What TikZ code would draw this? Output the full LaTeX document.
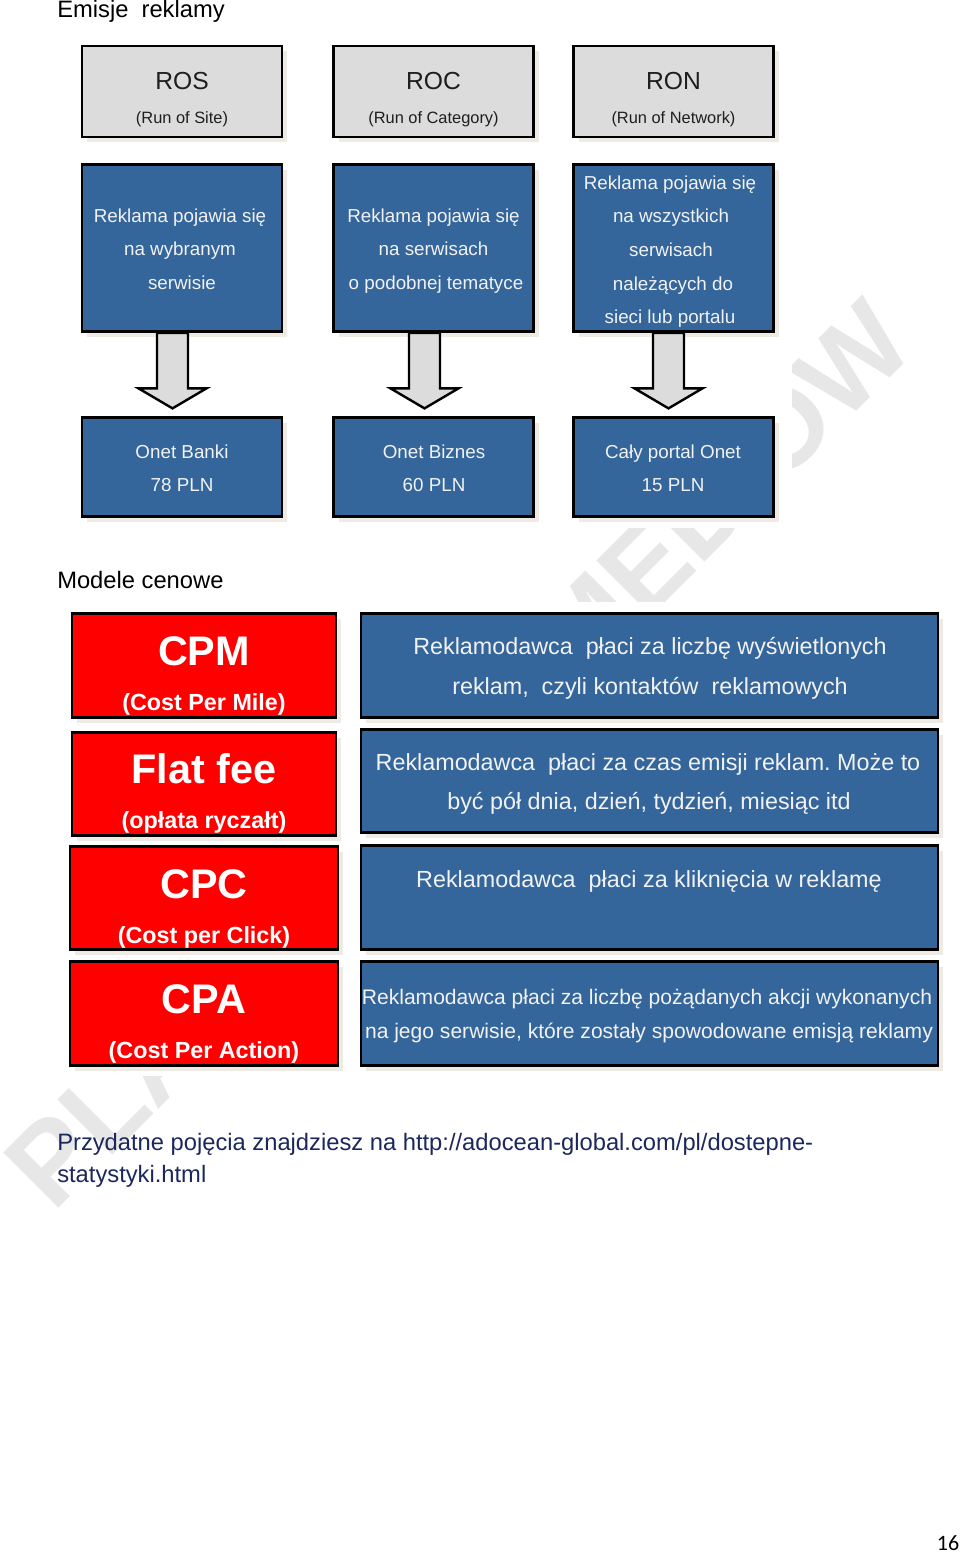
\documentclass[tikz,border=0pt]{standalone}
\usepackage{fontspec}
\setmainfont{Liberation Sans}
\newfontfamily\calibfont{Carlito}
\usetikzlibrary{calc,shadows}
\definecolor{boxblue}{RGB}{52,101,155}
\definecolor{boxgray}{RGB}{220,220,220}
\definecolor{shadowc}{RGB}{237,235,228}
\definecolor{wmgray}{RGB}{231,231,231}
\definecolor{navy}{RGB}{28,40,92}
\definecolor{wtext}{RGB}{242,242,242}
\definecolor{dtext}{RGB}{30,30,30}
\newcommand\blockarr[3]{%
  \coordinate (#1s) at ($(#1.south)+(#3,0)$);
  \coordinate (#1t) at ($(#2.north)+(#3,-7.5)$);
  \draw[barrow] ($(#1s)+(-15.5,0)$) -- ($(#1s)+(15.5,0)$) -- ($(#1t)+(15.5,-20)$) -- ($(#1t)+(34,-20)$) -- (#1t) -- ($(#1t)+(-34,-20)$) -- ($(#1t)+(-15.5,-20)$) -- cycle;}
\begin{document}
\begin{tikzpicture}[x=0.75pt,y=-0.75pt,
  box/.style={draw=black, line width=2.1pt, inner sep=0pt,
    drop shadow={shadow xshift=4pt, shadow yshift=-4pt, fill=shadowc, opacity=1}},
  gbox/.style={box, fill=boxgray, minimum width=150pt, minimum height=68.25pt},
  mbox/.style={box, fill=boxblue, minimum width=150pt, minimum height=125.25pt},
  bbox/.style={box, fill=boxblue, minimum width=150pt, minimum height=74.6pt},
  rbox/.style={box, fill=red, minimum width=#1, minimum height=77.6pt},
  pbox/.style={box, fill=boxblue, minimum width=432.75pt, minimum height=77.6pt},
  barrow/.style={draw=black, fill=boxgray, line width=1.8pt, line join=miter},
  txt/.style={anchor=base, inner sep=0pt},
  gtitle/.style={txt, text=dtext, font=\fontsize{18.5}{20}\selectfont},
  gsub/.style={txt, text=dtext, font=\fontsize{12.3}{14}\selectfont},
  mtxt/.style={txt, text=wtext, font=\fontsize{14.1}{16}\selectfont},
  rbig/.style={txt, text=white, font=\bfseries\fontsize{31}{33}\selectfont},
  rsub/.style={txt, text=white, font=\bfseries\fontsize{17.5}{19}\selectfont},
  ptxt/.style={txt, text=wtext, font=\fontsize{17.5}{19}\selectfont},
  psmall/.style={txt, text=wtext, font=\fontsize{15.8}{18}\selectfont},
  head/.style={anchor=base west, inner sep=0pt, font=\fontsize{17.8}{20}\selectfont},
  wm/.style={inner sep=0pt, text=wmgray, rotate=45, text height=61pt, text depth=0pt,
    font=\bfseries\fontsize{85}{85}\selectfont},
  page/.style={fill=white, draw=none}]
\useasboundingbox (0,0) rectangle (960,1554);
\fill[white] (0,0) rectangle (960,1554);

% watermark (only the visible parts), hidden behind the two diagram areas
\node[wm] (wm1) at (105,1105) {PLA};
\node[wm] (wm2) at (720,490) {MEDIÓW};
\fill[page] (40,30) rectangle (792,528);
\fill[page] (45,602) rectangle (948,1076);

% headings
\node[head] (h1) at (57,17.5) {Emisje\ \ reklamy};
\node[head] (h2) at (57,588) {Modele cenowe};

% top gray boxes
\node[gbox] (ros) at (182,91.5) {};
\node[gbox] (roc) at (433.5,91.5) {};
\node[gbox] (ron) at (673.5,91.5) {};
\node[gtitle] (rost) at (182,89) {ROS};
\node[gsub] (ross) at (182,123) {(Run of Site)};
\node[gtitle] (roct) at (433.5,89) {ROC};
\node[gsub] (rocs) at (433.5,123) {(Run of Category)};
\node[gtitle] (ront) at (673.5,89) {RON};
\node[gsub] (rons) at (673.5,123) {(Run of Network)};

% middle blue boxes
\node[mbox] (m1) at (182,248) {};
\node[mbox] (m2) at (433.5,248) {};
\node[mbox] (m3) at (673.5,248) {};
\node[mtxt] (m1a) at (180,222) {Reklama pojawia się};
\node[mtxt] (m1b) at (180,255.5) {na wybranym};
\node[mtxt] (m1c) at (182,289) {serwisie};
\node[mtxt] (m2a) at (433.5,222) {Reklama pojawia się};
\node[mtxt] (m2b) at (433.5,255.5) {na serwisach};
\node[mtxt] (m2c) at (436,289) {o podobnej\ tematyce};
\node[mtxt] (m3a) at (670,189) {Reklama pojawia się};
\node[mtxt] (m3b) at (671,222) {na wszystkich};
\node[mtxt] (m3c) at (671,256) {serwisach};
\node[mtxt] (m3d) at (673,290) {należących do};
\node[mtxt] (m3e) at (670,323) {sieci lub portalu};

% bottom blue boxes
\node[bbox] (b1) at (182,467) {};
\node[bbox] (b2) at (433.5,467) {};
\node[bbox] (b3) at (673.5,467) {};
\node[mtxt] (b1a) at (182,458) {Onet Banki};
\node[mtxt] (b1b) at (182,491) {78 PLN};
\node[mtxt] (b2a) at (434,458) {Onet Biznes};
\node[mtxt] (b2b) at (434,491) {60 PLN};
\node[mtxt] (b3a) at (673,458) {Cały portal Onet};
\node[mtxt] (b3b) at (673,491) {15 PLN};

% block arrows
\blockarr{m1}{b1}{-9.5}
\blockarr{m2}{b2}{-9}
\blockarr{m3}{b3}{-5}

% pricing models
\node[rbox=198pt] (cpm) at (204,665.5) {};
\node[rbox=198pt] (flat) at (204,784) {};
\node[rbox=201pt] (cpc) at (204,898) {};
\node[rbox=201pt] (cpa) at (204,1013.5) {};
\node[pbox] (p1) at (649.5,665.5) {};
\node[pbox] (p2) at (649.5,781) {};
\node[pbox] (p3) at (649.5,897.5) {};
\node[pbox] (p4) at (649.5,1013.5) {};

\node[rbig] (cpmt) at (204,665) {CPM};
\node[rsub] (cpms) at (204,710) {(Cost Per Mile)};
\node[rbig] (flatt) at (204,783) {Flat fee};
\node[rsub] (flats) at (204,828) {(opłata ryczałt)};
\node[rbig] (cpct) at (204,898) {CPC};
\node[rsub] (cpcs) at (204,943) {(Cost per Click)};
\node[rbig] (cpat) at (204,1013) {CPA};
\node[rsub] (cpas) at (204,1058) {(Cost Per Action)};

\node[ptxt] (p1a) at (650,654) {Reklamodawca\ \ płaci za liczbę wyświetlonych};
\node[ptxt] (p1b) at (650,694) {reklam,\ \ czyli kontaktów\ \ reklamowych};
\node[ptxt] (p2a) at (648,770) {Reklamodawca\ \ płaci za czas emisji reklam.\ Może to};
\node[ptxt] (p2b) at (649,809) {być pół dnia, dzień, tydzień, miesiąc itd};
\node[ptxt] (p3a) at (649,887) {Reklamodawca\ \ płaci za kliknięcia w\ reklamę};
\node[psmall] (p4a) at (647,1004.5) {Reklamodawca płaci za liczbę pożądanych akcji wykonanych};
\node[psmall] (p4b) at (649,1038.5) {na jego serwisie, które zostały spowodowane emisją reklamy};

% footer
\node[head, text=navy] (f1) at (57,1150) {Przydatne pojęcia znajdziesz na http://adocean-global.com/pl/dostepne-};
\node[head, text=navy] (f2) at (57,1182) {statystyki.html};
\node[anchor=base, inner sep=0pt, font=\calibfont\fontsize{16.5}{18}\selectfont] (pg) at (948,1550) {16};
\end{tikzpicture}
\end{document}
